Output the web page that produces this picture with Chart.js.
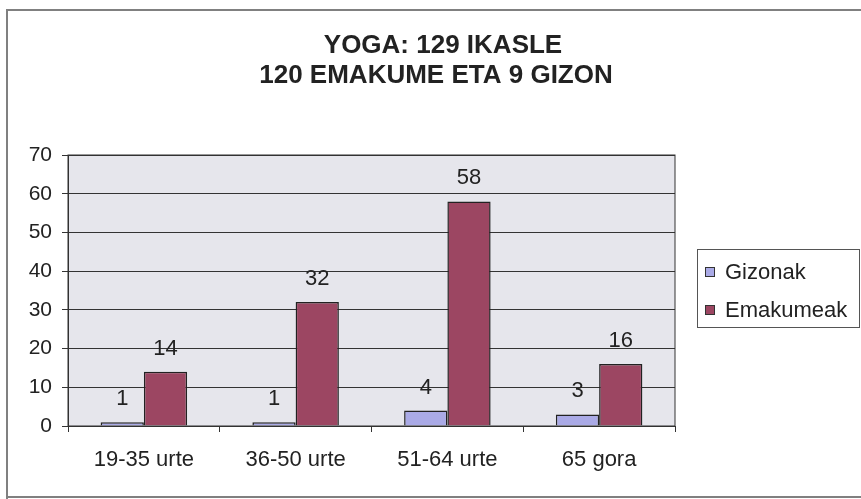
<!DOCTYPE html>
<html>
<head>
<meta charset="utf-8">
<script src="https://cdn.jsdelivr.net/npm/chart.js@4/dist/chart.umd.min.js"></script>
<style>
  html, body { margin: 0; padding: 0; background: #fff; }
  #wrap { width: 861px; height: 499px; position: relative; }
</style>
</head>
<body>
<div id="wrap"><canvas id="c" width="861" height="499"></canvas></div>
<script>
// ---- data ----
const categories = ["19-35 urte", "36-50 urte", "51-64 urte", "65 gora"];
const gizonak = [1, 1, 4, 3];
const emakumeak = [14, 32, 58, 16];
const seriesNames = ["Gizonak", "Emakumeak"];
const titleLines = ["YOGA: 129 IKASLE", "120 EMAKUME ETA 9 GIZON"];
const yTicks = [0, 10, 20, 30, 40, 50, 60, 70];

const FONT = "Arial, 'Liberation Sans', sans-serif";
const colGiz = "#aaaae6";
const colEma = "#9c4662";

const decor = {
  id: "decor",
  beforeDraw(chart) {
    const ctx = chart.ctx;
    const a = chart.chartArea;
    ctx.save();
    ctx.fillStyle = "#fff";
    ctx.fillRect(0, 0, chart.width, chart.height);
    // outer frame
    ctx.strokeStyle = "#808080";
    ctx.lineWidth = 2;
    ctx.beginPath();
    ctx.moveTo(861, 10); ctx.lineTo(7, 10); ctx.lineTo(7, 499);
    ctx.moveTo(7, 497); ctx.lineTo(861, 497);
    ctx.stroke();
    // plot area background
    ctx.fillStyle = "#e6e6ec";
    ctx.fillRect(a.left, a.top, a.right - a.left, a.bottom - a.top);
    ctx.restore();
  },
  afterDatasetsDraw(chart) {
    const ctx = chart.ctx;
    const a = chart.chartArea;
    ctx.save();
    // plot border
    ctx.strokeStyle = "#333";
    ctx.lineWidth = 1;
    ctx.strokeRect(a.left, a.top, a.right - a.left, a.bottom - a.top);
    // data labels
    ctx.fillStyle = "#222";
    ctx.font = "22px " + FONT;
    ctx.textAlign = "center";
    ctx.textBaseline = "alphabetic";
    chart.data.datasets.forEach((ds, i) => {
      const meta = chart.getDatasetMeta(i);
      meta.data.forEach((bar, j) => {
        ctx.fillText(String(ds.data[j]), bar.x, bar.y - 17);
      });
    });
    // title
    ctx.font = "bold 26px " + FONT;
    ctx.fillStyle = "#222";
    ctx.fillText(titleLines[0], 443, 53);
    ctx.fillText(titleLines[1], 436, 83);
    // legend
    ctx.strokeStyle = "#555";
    ctx.lineWidth = 1;
    ctx.strokeRect(697.5, 249.5, 162, 78);
    const ly = [272, 310];
    chart.data.datasets.forEach((ds, i) => {
      ctx.fillStyle = ds.backgroundColor;
      ctx.fillRect(705, ly[i] - 5, 10, 10);
      ctx.strokeStyle = "#333";
      ctx.strokeRect(705.5, ly[i] - 4.5, 9, 9);
      ctx.fillStyle = "#222";
      ctx.font = "22px " + FONT;
      ctx.textAlign = "left";
      ctx.textBaseline = "middle";
      ctx.fillText(ds.label, 725, ly[i] + 1);
    });
    ctx.restore();
  }
};

new Chart(document.getElementById("c"), {
  type: "bar",
  data: {
    labels: categories,
    datasets: [
      { label: seriesNames[0], data: gizonak, backgroundColor: colGiz, borderColor: "#222", borderWidth: 1.5 },
      { label: seriesNames[1], data: emakumeak, backgroundColor: colEma, borderColor: "#222", borderWidth: 1.5 }
    ]
  },
  options: {
    responsive: false,
    animation: false,
    devicePixelRatio: 1,
    layout: { padding: { top: 155, right: 186, left: 0, bottom: 0 } },
    datasets: { bar: { categoryPercentage: 0.57, barPercentage: 1.0 } },
    plugins: { legend: { display: false }, title: { display: false }, tooltip: { enabled: false } },
    scales: {
      x: {
        grid: { offset: true, drawOnChartArea: false, color: "#333", tickLength: 6 },
        border: { color: "#333", width: 1 },
        ticks: { font: { family: FONT, size: 22 }, color: "#222", padding: 15 },
        afterFit(s) { s.height = 73; }
      },
      y: {
        min: 0, max: 70,
        afterBuildTicks(s) { s.ticks = yTicks.map(v => ({ value: v })); },
        grid: { color: "#333", tickLength: 6 },
        border: { color: "#333", width: 1 },
        ticks: { font: { family: FONT, size: 21 }, color: "#222", padding: 10 },
        afterFit(s) { s.width = 68; }
      }
    }
  },
  plugins: [decor]
});
</script>
</body>
</html>
